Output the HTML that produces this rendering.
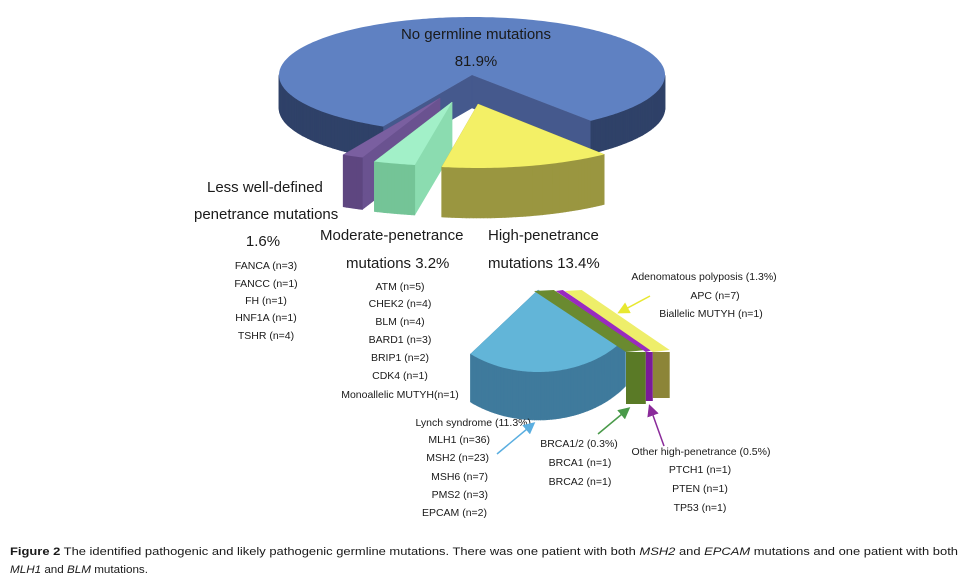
<!DOCTYPE html>
<html><head><meta charset="utf-8">
<style>
html,body{margin:0;padding:0;background:#fff;}
svg{display:block;}
text{font-family:"Liberation Sans",Arial,sans-serif;fill:#1a1a1a;}
.big{font-size:15px;}
.sm{font-size:10.5px;}
.cap{font-size:11px;}
</style></head>
<body>
<svg id="chart" width="969" height="582" viewBox="0 0 969 582">
<g id="pies"></g>
<g>
<text class="big" x="476" y="39" text-anchor="middle">No germline mutations</text>
<text class="big" x="476" y="66" text-anchor="middle">81.9%</text>
<text class="big" x="207" y="192">Less well-defined</text>
<text class="big" x="194" y="219">penetrance mutations</text>
<text class="big" x="263" y="246" text-anchor="middle">1.6%</text>
<text class="big" x="320" y="240">Moderate-penetrance</text>
<text class="big" x="346" y="268">mutations  3.2%</text>
<text class="big" x="488" y="240">High-penetrance</text>
<text class="big" x="488" y="268">mutations  13.4%</text>
</g>
<g class="sm">
<g text-anchor="middle">
<text class="sm" x="266" y="269">FANCA (n=3)</text>
<text class="sm" x="266" y="287">FANCC (n=1)</text>
<text class="sm" x="266" y="304">FH (n=1)</text>
<text class="sm" x="266" y="321">HNF1A (n=1)</text>
<text class="sm" x="266" y="339">TSHR (n=4)</text>
</g>
<g text-anchor="middle">
<text class="sm" x="400" y="290">ATM (n=5)</text>
<text class="sm" x="400" y="307">CHEK2 (n=4)</text>
<text class="sm" x="400" y="325">BLM (n=4)</text>
<text class="sm" x="400" y="343">BARD1 (n=3)</text>
<text class="sm" x="400" y="361">BRIP1 (n=2)</text>
<text class="sm" x="400" y="379">CDK4 (n=1)</text>
<text class="sm" x="400" y="398">Monoallelic MUTYH(n=1)</text>
</g>
<g text-anchor="middle">
<text class="sm" x="704" y="280">Adenomatous polyposis (1.3%)</text>
<text class="sm" x="715" y="299">APC (n=7)</text>
<text class="sm" x="711" y="317">Biallelic MUTYH (n=1)</text>
</g>
<g>
<text class="sm" x="531" y="426" text-anchor="end">Lynch syndrome (11.3%)</text>
<text class="sm" x="490" y="443" text-anchor="end">MLH1 (n=36)</text>
<text class="sm" x="489" y="461" text-anchor="end">MSH2 (n=23)</text>
<text class="sm" x="488" y="480" text-anchor="end">MSH6 (n=7)</text>
<text class="sm" x="488" y="498" text-anchor="end">PMS2 (n=3)</text>
<text class="sm" x="487" y="516" text-anchor="end">EPCAM (n=2)</text>
</g>
<g text-anchor="middle">
<text class="sm" x="579" y="447">BRCA1/2 (0.3%)</text>
<text class="sm" x="580" y="466">BRCA1 (n=1)</text>
<text class="sm" x="580" y="485">BRCA2 (n=1)</text>
</g>
<g text-anchor="middle">
<text class="sm" x="701" y="455">Other high-penetrance (0.5%)</text>
<text class="sm" x="700" y="473">PTCH1 (n=1)</text>
<text class="sm" x="700" y="492">PTEN (n=1)</text>
<text class="sm" x="700" y="511">TP53 (n=1)</text>
</g>
</g>
<g>
<defs>
<marker id="ay" markerWidth="8" markerHeight="8" refX="6" refY="4" orient="auto"><path d="M0,0 L8,4 L0,8 z" fill="#e8e830"/></marker>
<marker id="ab" markerWidth="8" markerHeight="8" refX="6" refY="4" orient="auto"><path d="M0,0 L8,4 L0,8 z" fill="#5aaee0"/></marker>
<marker id="ag" markerWidth="8" markerHeight="8" refX="6" refY="4" orient="auto"><path d="M0,0 L8,4 L0,8 z" fill="#4a9a4a"/></marker>
<marker id="ap" markerWidth="8" markerHeight="8" refX="6" refY="4" orient="auto"><path d="M0,0 L8,4 L0,8 z" fill="#8a2a9a"/></marker>
</defs>
<line x1="650" y1="296" x2="620" y2="312" stroke="#e8e830" stroke-width="1.5" marker-end="url(#ay)"/>
<line x1="497" y1="454" x2="533" y2="424" stroke="#5aaee0" stroke-width="1.5" marker-end="url(#ab)"/>
<line x1="598" y1="434" x2="628" y2="409" stroke="#4a9a4a" stroke-width="1.5" marker-end="url(#ag)"/>
<line x1="664" y1="446" x2="650" y2="407" stroke="#8a2a9a" stroke-width="1.5" marker-end="url(#ap)"/>
</g>
<g>
<text class="cap" x="10" y="555" textLength="948" lengthAdjust="spacingAndGlyphs"><tspan font-weight="bold">Figure 2</tspan> The identified pathogenic and likely pathogenic germline mutations. There was one patient with both <tspan font-style="italic">MSH2</tspan> and <tspan font-style="italic">EPCAM</tspan> mutations and one patient with both</text>
<text class="cap" x="10" y="573" textLength="138" lengthAdjust="spacingAndGlyphs"><tspan font-style="italic">MLH1</tspan> and <tspan font-style="italic">BLM</tspan> mutations.</text>
</g>
</svg>
<script>
// Main pie data
var mainCategories = ["No germline mutations", "High-penetrance", "Moderate-penetrance", "Less well-defined penetrance"];
var mainValues = [81.9, 13.4, 3.2, 1.6];
// Sub pie (high-penetrance breakdown)
var subCategories = ["Lynch syndrome", "BRCA1/2", "Other high-penetrance", "Adenomatous polyposis"];
var subValues = [11.3, 0.3, 0.5, 1.3];

var NS = "http://www.w3.org/2000/svg";
var layer = document.getElementById("pies");
function mk(tag, attrs, name) {
  var e = document.createElementNS(NS, tag);
  for (var k in attrs) e.setAttribute(k, attrs[k]);
  
  
  layer.appendChild(e);
  return e;
}
function pt(cx, cy, rx, ry, a) { var r = a * Math.PI / 180; return [cx + rx * Math.cos(r), cy + ry * Math.sin(r)]; }
function p2s(p) { return p[0].toFixed(1) + "," + p[1].toFixed(1); }

function slice(cx, cy, rx, ry, depth, a0, a1, top, side, cut, name) {
  var c = [cx, cy], cb = [cx, cy + depth];
  var e0 = pt(cx, cy, rx, ry, a0), e1 = pt(cx, cy, rx, ry, a1);
  [e0, e1].forEach(function (e) {
    mk("polygon", { points: [c, cb, [e[0], e[1] + depth], e].map(p2s).join(" "), fill: cut, stroke: cut, "stroke-width": 0.5 }, name + "-cut-face");
  });
  var steps = Math.max(4, Math.ceil(Math.abs(a1 - a0)));
  var d = (a1 - a0) / steps;
  for (var i = 0; i < steps; i++) {
    var s = a0 + i * d, t = s + d;
    var m = (s + t) / 2;
    if (Math.sin(m * Math.PI / 180) <= 0) continue;
    var p = pt(cx, cy, rx, ry, s), q = pt(cx, cy, rx, ry, t);
    mk("polygon", { points: [p, q, [q[0], q[1] + depth], [p[0], p[1] + depth]].map(p2s).join(" "), fill: side, stroke: side, "stroke-width": 0.6 }, name + "-side-wall");
  }
  var path = "M" + p2s(c) + " L" + p2s(e0);
  for (var j = 1; j <= steps; j++) path += " L" + p2s(pt(cx, cy, rx, ry, a0 + j * d));
  path += " Z";
  mk("path", { d: path, fill: top }, name + "-top");
}

// ---- main pie ----
var total = mainValues.reduce(function (a, b) { return a + b; }, 0);
var startAngle = 52;
var mainStyles = [
  { cx: 472, cy: 75, rx: 193, ry: 58, depth: 33, top: "#5f81c2", side: "#2f4168", cut: "#45598d", name: "slice-no-germline" },
  { cx: 478, cy: 104, rx: 205, ry: 64, depth: 50, top: "#f3f066", side: "#9a9640", cut: "#c9c455", name: "slice-high-penetrance" },
  { cx: 452, cy: 102, rx: 210, ry: 64, depth: 50, top: "#a2f0c8", side: "#74c497", cut: "#8bdcb0", name: "slice-moderate-penetrance" },
  { cx: 440, cy: 98, rx: 210, ry: 64, depth: 52, top: "#7a5fa0", side: "#5e4680", cut: "#6a5290", name: "slice-less-well-defined" }
];
var angs = [];
var a = startAngle;
for (var i = 1; i < mainValues.length; i++) { var span = mainValues[i] / total * 360; angs[i] = [a, a + span]; a += span; }
angs[0] = [a - 360, startAngle];
[0, 3, 2, 1].forEach(function (i) {
  var s = mainStyles[i];
  slice(s.cx, s.cy, s.rx, s.ry, s.depth, angs[i][0], angs[i][1], s.top, s.side, s.cut, s.name);
});

// ---- sub pie (high-penetrance) ----
var degPerPct = 8.2;
var lynchSpan = subValues[0] * degPerPct;
var lEnd = 36;
slice(538, 290, 108, 82, 48, lEnd, lEnd + lynchSpan, "#62b5d8", "#3f7a9c", "#4f93b6", "slice-lynch");
var slabColors = [["#6a8a30", "#5a7a26"], ["#9a2ac0", "#7a1a9a"], ["#eeee6a", "#8c8538"]];
var slabNames = ["slab-brca", "slab-other-high", "slab-adenomatous"];
var x0 = 626, pxPerPct = [66, 14, 13];
for (var k = 1; k < subValues.length; k++) {
  var w = subValues[k] * pxPerPct[k - 1];
  var x1 = x0 + w;
  var tx = -92 + (k - 1) * 2;
  mk("polygon", { points: [[x0, 352], [x1, 350], [x1 + tx, 290], [x0 + tx, 291]].map(p2s).join(" "), fill: slabColors[k - 1][0] }, slabNames[k - 1] + "-top");
  mk("rect", { x: x0, y: 352, width: w, height: 52 - (k - 1) * 3, fill: slabColors[k - 1][1] }, slabNames[k - 1] + "-front");
  x0 = x1;
}
</script>
</body></html>
